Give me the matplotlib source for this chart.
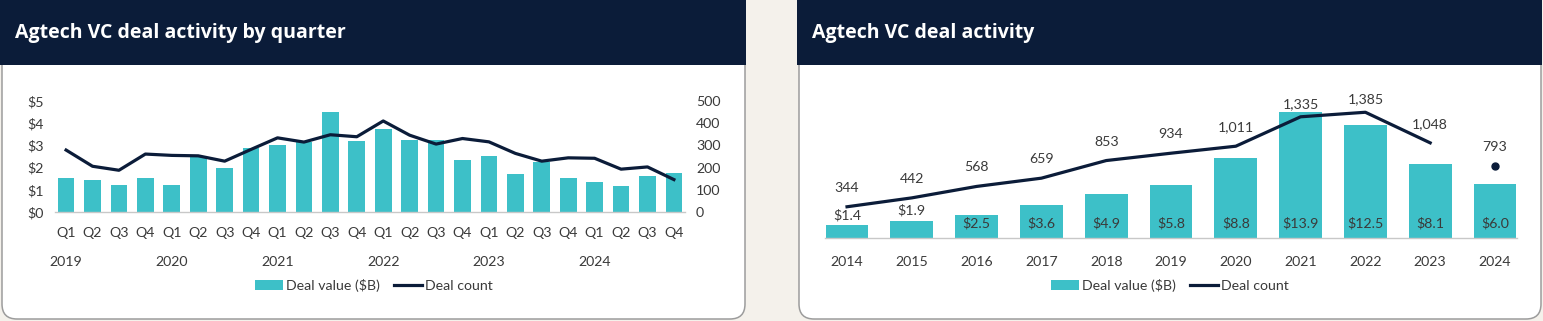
import matplotlib
matplotlib.use("Agg")
import matplotlib.pyplot as plt
from matplotlib.patches import FancyBboxPatch, Rectangle, Patch
from matplotlib.lines import Line2D
from matplotlib.transforms import IdentityTransform

# ---- data -------------------------------------------------------------
quarters = ["Q1", "Q2", "Q3", "Q4"] * 6
quarter_years = ["2019", "2020", "2021", "2022", "2023", "2024"]
q_value = [1.55, 1.43, 1.22, 1.52,
           1.22, 2.51, 2.00, 2.88,
           3.04, 3.16, 4.49, 3.21,
           3.73, 3.24, 3.24, 2.33,
           2.53, 1.69, 2.26, 1.52,
           1.36, 1.19, 1.61, 1.76]
q_count = [279, 206, 188, 261,
           255, 253, 229, 282,
           334, 315, 348, 339,
           410, 346, 306, 331,
           316, 264, 229, 244,
           242, 193, 203, 146]
q_left_ticks = [0, 1, 2, 3, 4, 5]
q_right_ticks = [0, 100, 200, 300, 400, 500]

years = ["2014", "2015", "2016", "2017", "2018", "2019",
         "2020", "2021", "2022", "2023", "2024"]
y_value = [1.4, 1.9, 2.5, 3.6, 4.9, 5.8, 8.8, 13.9, 12.5, 8.1, 6.0]
y_count = [344, 442, 568, 659, 853, 934, 1011, 1335, 1385, 1048, 793]

# ---- style ------------------------------------------------------------
W, H = 1543, 321
NAVY = "#0b1c39"
TEAL = "#3dc0c8"
CREAM = "#f4f1eb"
TXT = "#3a3a3a"
FS = 10.2
plt.rcParams["font.family"] = ["Lato", "DejaVu Sans"]

fig = plt.figure(figsize=(W / 100, H / 100), dpi=100, facecolor=CREAM)
PIX = IdentityTransform()   # display pixels, origin bottom-left


def fbox(x0, y0, x1, y1):
    """pixel box (top-left origin) -> figure fraction rect"""
    return [x0 / W, 1 - y1 / H, (x1 - x0) / W, (y1 - y0) / H]


def panel(x0, x1, title):
    body = FancyBboxPatch((x0, H - 319), x1 - x0, 319 - 30,
                          boxstyle="round,pad=0,rounding_size=15",
                          transform=PIX, facecolor="white",
                          edgecolor="#9c9c9c", linewidth=1.1, zorder=-2)
    fig.patches.append(body)
    head = Rectangle((x0 - 2, H - 65), x1 - x0 + 2.5, 65,
                     transform=PIX, facecolor=NAVY,
                     edgecolor="none", zorder=-1)
    fig.patches.append(head)
    fig.text((x0 + 13) / W, 1 - 33 / H, title, color="white",
             fontsize=14, fontweight="bold", family="Open Sans",
             va="center", ha="left")


panel(2, 745, "Agtech VC deal activity by quarter")
panel(799, 1541, "Agtech VC deal activity")

# ---- quarterly chart --------------------------------------------------
ax1 = fig.add_axes(fbox(55, 101, 685, 212))
ax1.set_facecolor("none")
xq = list(range(len(q_value)))
ax1.bar(xq, q_value, width=0.63, color=TEAL, zorder=2)
ax1.set_xlim(-0.42, 23.42)
ax1.set_ylim(0, 5)
ax1.set_yticks(q_left_ticks)
ax1.set_yticklabels([f"${v}" for v in q_left_ticks])
ax1.set_xticks(xq)
ax1.set_xticklabels(quarters)
ax1.tick_params(axis="both", length=0, labelsize=FS, colors=TXT)
ax1.tick_params(axis="y", pad=8)
ax1.tick_params(axis="x", pad=11)
for s in ["top", "left", "right"]:
    ax1.spines[s].set_visible(False)
ax1.spines["bottom"].set_color("#c8c8c8")
ax1.spines["bottom"].set_linewidth(1.0)

ax1r = ax1.twinx()
ax1r.plot(xq, q_count, color=NAVY, lw=2.3, zorder=3, solid_joinstyle="round")
ax1r.set_ylim(0, 500)
ax1r.set_yticks(q_right_ticks)
ax1r.tick_params(axis="y", length=0, labelsize=FS, colors=TXT, pad=8)
for s in ["top", "left", "right", "bottom"]:
    ax1r.spines[s].set_visible(False)

for k, yr in enumerate(quarter_years):
    ax1.annotate(yr, xy=(4 * k, 0), xycoords=("data", "axes fraction"),
                 xytext=(0, -50), textcoords="offset pixels",
                 ha="center", va="center", fontsize=FS, color=TXT)

handles = [Patch(facecolor=TEAL, edgecolor="none"),
           Line2D([0], [0], color=NAVY, lw=2.3)]
fig.legend(handles, ["Deal value ($B)", "Deal count"], ncol=2,
           loc="center", bbox_to_anchor=(374 / W, 1 - 285 / H),
           frameon=False, fontsize=FS, handlelength=2.0, handleheight=0.7,
           handletextpad=0.2, columnspacing=1.0, labelcolor=TXT)

# ---- annual chart -----------------------------------------------------
ax2 = fig.add_axes(fbox(825, 100, 1517, 238))
ax2.set_facecolor("none")
xy = list(range(len(y_value)))
ax2.bar(xy, y_value, width=0.66, color=TEAL, zorder=2)
ax2.set_xlim(-0.34, 10.34)
ax2.set_ylim(0, 15.2)
ax2.set_yticks([])
ax2.set_xticks(xy)
ax2.set_xticklabels(years)
ax2.tick_params(axis="x", length=0, labelsize=FS, colors=TXT, pad=13)
for s in ["top", "left", "right"]:
    ax2.spines[s].set_visible(False)
ax2.spines["bottom"].set_color("#c8c8c8")
ax2.spines["bottom"].set_linewidth(1.0)

for i, v in enumerate(y_value):
    if v < 2.0:
        ax2.annotate(f"${v:.1f}", xy=(i, v), xytext=(0, 10),
                     textcoords="offset pixels", ha="center", va="center",
                     fontsize=FS, color=TXT, zorder=4)
    else:
        ax2.annotate(f"${v:.1f}", xy=(i, 0), xytext=(0, 15),
                     textcoords="offset pixels", ha="center", va="center",
                     fontsize=FS, color=TXT, zorder=4)

ax2r = ax2.twinx()
ax2r.set_ylim(0, 1520)
ax2r.set_yticks([])
for s in ["top", "left", "right", "bottom"]:
    ax2r.spines[s].set_visible(False)
ax2r.plot(xy[:-1], y_count[:-1], color=NAVY, lw=2.3, zorder=3,
          solid_joinstyle="round")
ax2r.plot(xy[-1], y_count[-1], "o", color=NAVY, ms=5, zorder=3)
for i, c in enumerate(y_count):
    off = 13 if c > 1200 else 19
    ax2r.annotate(f"{c:,}", xy=(i, c), xytext=(0, off),
                  textcoords="offset pixels", ha="center", va="center",
                  fontsize=FS, color=TXT)

handles2 = [Patch(facecolor=TEAL, edgecolor="none"),
            Line2D([0], [0], color=NAVY, lw=2.3)]
fig.legend(handles2, ["Deal value ($B)", "Deal count"], ncol=2,
           loc="center", bbox_to_anchor=(1170 / W, 1 - 285 / H),
           frameon=False, fontsize=FS, handlelength=2.0, handleheight=0.7,
           handletextpad=0.2, columnspacing=1.0, labelcolor=TXT)

fig.savefig("out.png", dpi=100, facecolor=CREAM)
